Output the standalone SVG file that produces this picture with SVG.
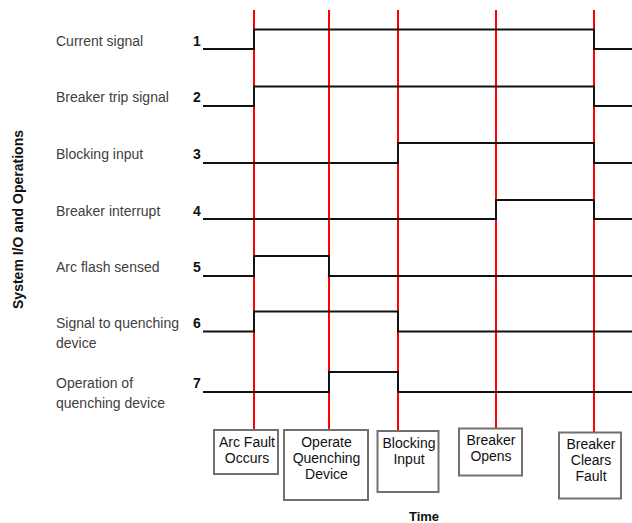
<svg xmlns="http://www.w3.org/2000/svg" width="632" height="523" viewBox="0 0 632 523">
<style>
.lbl{font-family:"Liberation Sans",Arial,sans-serif;font-size:14px;fill:#404040}
.num{font-family:"Liberation Sans",Arial,sans-serif;font-size:14px;font-weight:bold;fill:#111}
.ttl{font-family:"Liberation Sans",Arial,sans-serif;font-weight:bold;fill:#111}
.box{fill:#fff;stroke:#707070;stroke-width:2}
.bt{font-family:"Liberation Sans",Arial,sans-serif;font-size:14px;fill:#111;text-anchor:middle}
.red{stroke:#ff0000;stroke-width:2;fill:none}
.sig{stroke:#111;stroke-width:2;fill:none}
</style>
<rect width="632" height="523" fill="#fff"/>
<text class="ttl" font-size="14" transform="translate(23,219.5) rotate(-90)" text-anchor="middle">System I/O and Operations</text>
<text class="ttl" font-size="13" x="424" y="521" text-anchor="middle">Time</text>
<g id="labels">
<text class="lbl" x="56" y="46">Current signal</text>
<text class="lbl" x="56" y="102">Breaker trip signal</text>
<text class="lbl" x="56" y="159">Blocking input</text>
<text class="lbl" x="56" y="215.5">Breaker interrupt</text>
<text class="lbl" x="56" y="271.5">Arc flash sensed</text>
<text class="lbl" x="56" y="328">Signal to quenching</text>
<text class="lbl" x="56" y="347.5">device</text>
<text class="lbl" x="56" y="388">Operation of</text>
<text class="lbl" x="56" y="407.5">quenching device</text>
<text class="num" x="193" y="46">1</text>
<text class="num" x="193" y="102">2</text>
<text class="num" x="193" y="159">3</text>
<text class="num" x="193" y="215.5">4</text>
<text class="num" x="193" y="271.5">5</text>
<text class="num" x="193" y="328">6</text>
<text class="num" x="193" y="388">7</text>
</g>
<g id="connectors">
<line class="red" x1="254" y1="10" x2="254" y2="430"/>
<line class="red" x1="329" y1="10" x2="329" y2="430"/>
<line class="red" x1="398" y1="10" x2="398" y2="431"/>
<line class="red" x1="496" y1="10" x2="496" y2="428"/>
<line class="red" x1="594" y1="10" x2="594" y2="432"/>
</g>
<g id="signals">
<path class="sig" d="M203,49 H254 V29.5 H594 V49 H632"/>
<path class="sig" d="M203,106 H254 V86.5 H594 V106 H632"/>
<path class="sig" d="M203,163 H398 V143 H594 V163 H632"/>
<path class="sig" d="M203,219 H496 V200 H594 V219 H632"/>
<path class="sig" d="M203,276 H254 V256 H329 V276 H632"/>
<path class="sig" d="M203,331.5 H254 V311.5 H398 V331.5 H632"/>
<path class="sig" d="M203,392 H329 V372 H398 V392 H632"/>
</g>
<g id="box-arc-fault">
<rect class="box" x="214" y="430" width="64" height="44"/>
<text class="bt" x="247" y="446.5">Arc Fault</text>
<text class="bt" x="247" y="462.5">Occurs</text>
</g>
<g id="box-operate">
<rect class="box" x="284" y="430" width="84" height="70"/>
<text class="bt" x="326.5" y="446.5">Operate</text>
<text class="bt" x="326.5" y="462.5">Quenching</text>
<text class="bt" x="326.5" y="478.5">Device</text>
</g>
<g id="box-blocking">
<rect class="box" x="377.5" y="431" width="61" height="61"/>
<text class="bt" x="409" y="447.5">Blocking</text>
<text class="bt" x="409" y="463.5">Input</text>
</g>
<g id="box-opens">
<rect class="box" x="459" y="428.5" width="63" height="47"/>
<text class="bt" x="491" y="444.5">Breaker</text>
<text class="bt" x="491" y="460.5">Opens</text>
</g>
<g id="box-clears">
<rect class="box" x="559" y="432.5" width="62" height="66"/>
<text class="bt" x="591" y="449">Breaker</text>
<text class="bt" x="591" y="465">Clears</text>
<text class="bt" x="591" y="481">Fault</text>
</g>
</svg>
